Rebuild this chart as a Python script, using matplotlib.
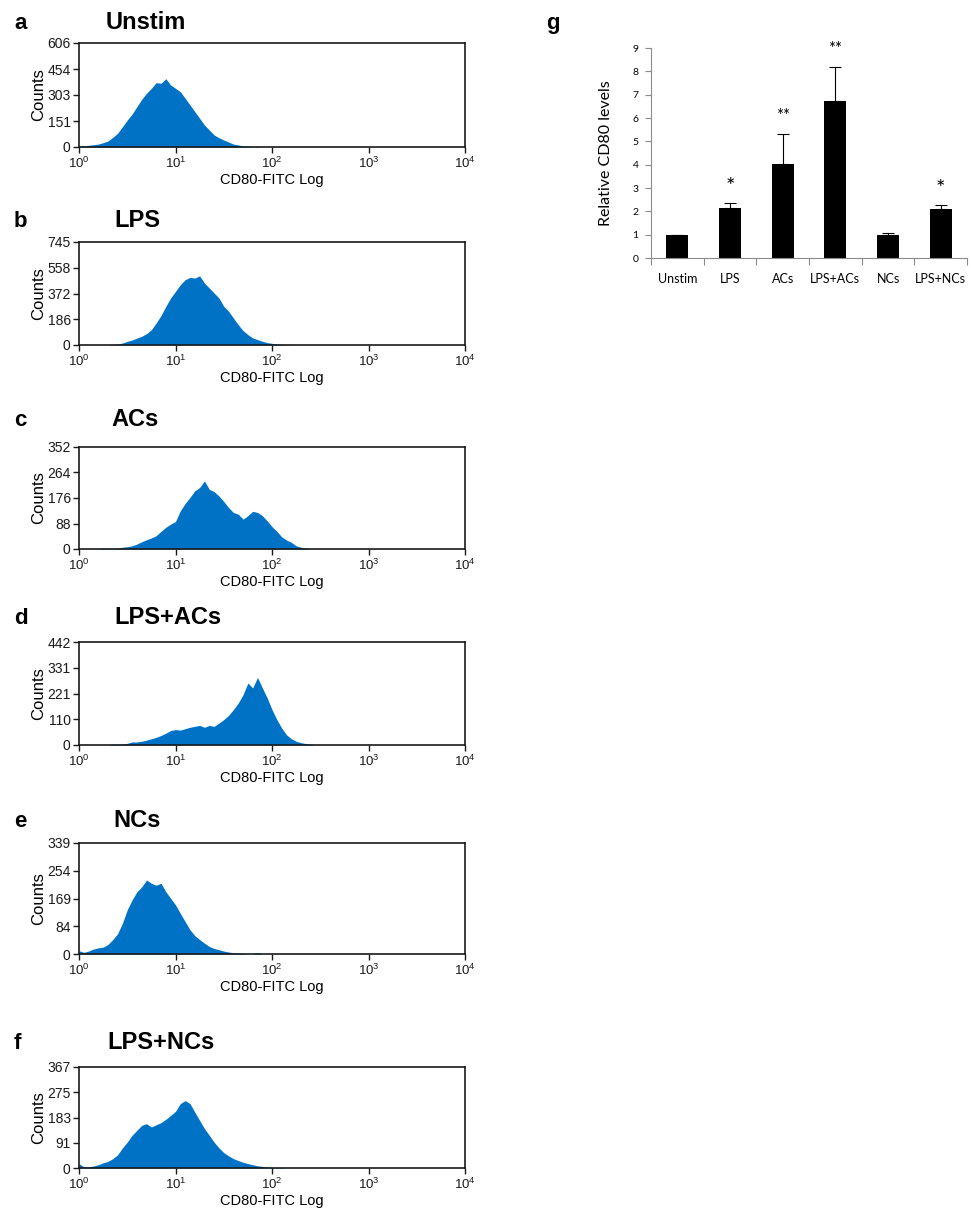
import numpy as np
import matplotlib
matplotlib.use("Agg")
import matplotlib.pyplot as plt
from matplotlib.ticker import NullLocator

plt.rcParams["font.family"] = ["Liberation Sans", "DejaVu Sans"]
plt.rcParams["mathtext.fontset"] = "custom"
plt.rcParams["mathtext.rm"] = "Liberation Sans"
plt.rcParams["mathtext.it"] = "Liberation Sans:italic"
plt.rcParams["mathtext.bf"] = "Liberation Sans:bold"

FIG_W, FIG_H = 971, 1209
BLUE = "#0072c6"

# ---- flow cytometry histograms (a-f) ----
# bin centres, log10 of CD80-FITC intensity
log_bins = [0.00, 0.05, 0.10, 0.15, 0.20, 0.25, 0.30, 0.35, 0.40, 0.45,
            0.50, 0.55, 0.60, 0.65, 0.70, 0.75, 0.80, 0.85, 0.90, 0.95,
            1.00, 1.05, 1.10, 1.15, 1.20, 1.25, 1.30, 1.35, 1.40, 1.45,
            1.50, 1.55, 1.60, 1.65, 1.70, 1.75, 1.80, 1.85, 1.90, 1.95,
            2.00, 2.05, 2.10, 2.15, 2.20, 2.25, 2.30, 2.35, 2.40, 2.45]

counts_unstim = [5, 7, 10, 13, 17, 25, 35, 56, 80, 118,
                 157, 192, 235, 278, 313, 342, 375, 371, 398, 361,
                 342, 322, 284, 245, 206, 167, 128, 99, 70, 54,
                 41, 29, 17, 12, 6, 4, 1, 3, 0, 0,
                 0, 0, 0, 0, 0, 0, 0, 0, 0, 0]
counts_lps = [0, 0, 0, 0, 0, 0, 0, 5, 7, 14,
              26, 36, 50, 63, 82, 111, 159, 214, 280, 340,
              388, 436, 472, 489, 484, 500, 448, 412, 376, 340,
              280, 244, 195, 147, 104, 75, 51, 39, 27, 17,
              12, 7, 5, 2, 0, 0, 0, 0, 0, 0]
counts_acs = [0, 0, 0, 0, 0, 3, 2, 2, 3, 6,
              8, 11, 17, 25, 32, 38, 46, 61, 75, 86,
              95, 132, 157, 178, 201, 212, 235, 206, 198, 183,
              164, 143, 126, 120, 103, 115, 130, 126, 115, 97,
              77, 61, 42, 31, 23, 11, 6, 3, 0, 0]
counts_lps_acs = [0, 0, 0, 0, 0, 0, 0, 3, 3, 4,
                  7, 13, 13, 16, 21, 27, 33, 41, 51, 62,
                  66, 64, 70, 76, 80, 84, 76, 84, 80, 94,
                  109, 127, 152, 180, 216, 266, 245, 290, 245, 202,
                  152, 109, 73, 44, 27, 16, 10, 6, 3, 0]
counts_ncs = [10, 5, 9, 15, 19, 21, 29, 44, 62, 94,
              135, 165, 190, 205, 226, 216, 210, 216, 190, 170,
              150, 124, 99, 74, 56, 44, 33, 23, 17, 13,
              9, 6, 4, 3, 2, 0, 0, 4, 0, 0,
              0, 0, 0, 0, 0, 0, 0, 0, 0, 0]
counts_lps_ncs = [16, 4, 5, 7, 12, 19, 24, 34, 48, 73,
                  94, 119, 137, 155, 161, 149, 157, 165, 177, 191,
                  206, 234, 245, 234, 203, 173, 143, 119, 94, 73,
                  56, 44, 34, 27, 21, 16, 12, 8, 6, 4,
                  2, 1, 2, 0, 0, 0, 0, 0, 0, 0]

panel_letters = ["a", "b", "c", "d", "e", "f"]
panel_titles = ["Unstim", "LPS", "ACs", "LPS+ACs", "NCs", "LPS+NCs"]
panel_counts = [counts_unstim, counts_lps, counts_acs,
                counts_lps_acs, counts_ncs, counts_lps_ncs]
count_ticks = [[0, 151, 303, 454, 606],
               [0, 186, 372, 558, 745],
               [0, 88, 176, 264, 352],
               [0, 110, 221, 331, 442],
               [0, 84, 169, 254, 339],
               [0, 91, 183, 275, 367]]
decades = [1, 10, 100, 1000, 10000]
decade_labels = [r"$\mathregular{10^{0}}$", r"$\mathregular{10^{1}}$",
                 r"$\mathregular{10^{2}}$", r"$\mathregular{10^{3}}$",
                 r"$\mathregular{10^{4}}$"]

# ---- relative CD80 bar chart (g) ----
bar_groups = ["Unstim", "LPS", "ACs", "LPS+ACs", "NCs", "LPS+NCs"]
bar_means = [1.0, 2.15, 4.05, 6.75, 0.97, 2.08]
bar_errs = [0.0, 0.22, 1.25, 1.42, 0.12, 0.20]
bar_stars = ["", "*", "**", "**", "", "*"]

# layout in pixels (top, bottom) for each histogram box
hist_boxes = [(43, 147), (242, 345), (447, 549), (642, 745), (843, 954), (1067, 1168)]
hist_left, hist_right = 79, 465
title_base = [29, 227, 426, 624, 827, 1049]
title_x = [106, 114, 111, 114, 113, 107]


def px_rect(left, top, right, bottom):
    return [left / FIG_W, 1 - bottom / FIG_H, (right - left) / FIG_W, (bottom - top) / FIG_H]


fig = plt.figure(figsize=(FIG_W / 100, FIG_H / 100), dpi=100)

x_vals = 10 ** np.array(log_bins)
for i in range(6):
    top, bottom = hist_boxes[i]
    ax = fig.add_axes(px_rect(hist_left, top, hist_right, bottom))
    ax.fill_between(x_vals, panel_counts[i], 0, color=BLUE, lw=0)
    ax.set_xscale("log")
    ax.set_xlim(1, 1e4)
    ax.set_ylim(0, count_ticks[i][-1])
    ax.set_xticks(decades)
    ax.set_xticklabels(decade_labels)
    ax.xaxis.set_minor_locator(NullLocator())
    ax.set_yticks(count_ticks[i])
    ax.set_yticklabels([str(v) for v in count_ticks[i]])
    ax.tick_params(direction="out", length=4, width=1, pad=2, colors="#1a1a1a")
    ax.tick_params(axis="x", labelsize=9.5, pad=2.5)
    ax.tick_params(axis="y", labelsize=10, pad=2)
    for sp in ax.spines.values():
        sp.set_linewidth(1.2)
        sp.set_color("#1a1a1a")
    ax.set_xlabel("CD80-FITC Log", fontsize=10.5, labelpad=1)
    ax.set_ylabel("Counts", fontsize=12, labelpad=1)

    fig.text(14 / FIG_W, 1 - title_base[i] / FIG_H, panel_letters[i],
             fontsize=16, fontweight="bold", va="baseline", ha="left")
    fig.text(title_x[i] / FIG_W, 1 - title_base[i] / FIG_H, panel_titles[i],
             fontsize=17, fontweight="bold", va="baseline", ha="left")

# bar chart
GREY = "#8a8a8a"
axg = fig.add_axes(px_rect(651, 48, 967, 258))
xpos = np.arange(len(bar_groups))
axg.bar(xpos, bar_means, width=0.42, color="black")
axg.errorbar(xpos, bar_means, yerr=[np.zeros(len(bar_errs)), bar_errs], fmt="none",
             ecolor="black", elinewidth=0.8, capsize=4.5, capthick=0.8)
for i, s in enumerate(bar_stars):
    if s:
        if s == "*":
            axg.text(xpos[i], bar_means[i] + bar_errs[i] + 0.25, s, ha="center", va="bottom",
                     fontsize=16, family="Lato")
        else:
            axg.text(xpos[i], bar_means[i] + bar_errs[i] + 0.45, s, ha="center", va="bottom",
                     fontsize=12, family="Lato")
axg.set_xlim(-0.5, 5.5)
axg.set_ylim(0, 9)
axg.set_yticks(range(10))
axg.set_yticklabels([str(v) for v in range(10)], family="Lato", fontsize=7.5)
axg.set_xticks(xpos)
axg.set_xticklabels(bar_groups, family="Lato", fontsize=9)
axg.set_xticks(np.arange(-0.5, 6, 1.0), minor=True)
axg.tick_params(axis="x", which="major", length=0, pad=11)
axg.tick_params(axis="x", which="minor", length=5, width=0.8, color=GREY)
axg.tick_params(axis="y", length=4, width=0.8, color=GREY, pad=5)
axg.spines["top"].set_visible(False)
axg.spines["right"].set_visible(False)
for side in ["left", "bottom"]:
    axg.spines[side].set_color(GREY)
    axg.spines[side].set_linewidth(0.8)
axg.set_ylabel("Relative CD80 levels", family="Lato", fontsize=11.5, labelpad=14)
fig.text(546 / FIG_W, 1 - 29 / FIG_H, "g", fontsize=16, fontweight="bold", va="baseline", ha="left")

fig.savefig("out.png", dpi=100)
